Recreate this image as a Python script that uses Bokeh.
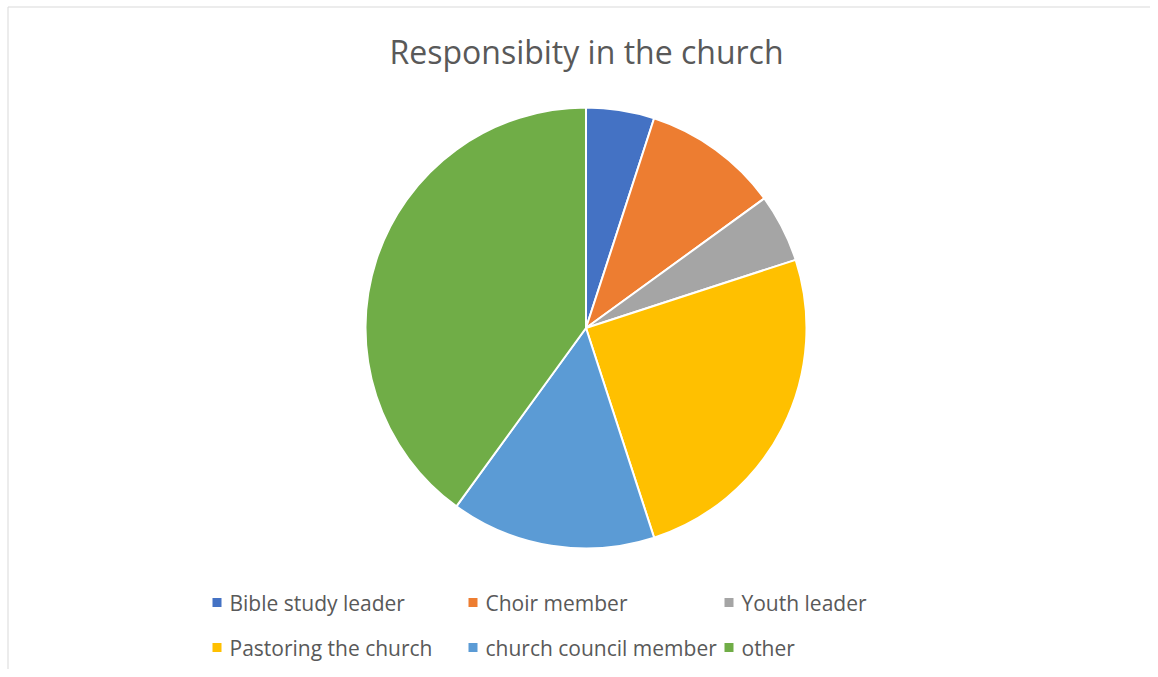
import math
from bokeh.plotting import figure
from bokeh.models import Range1d, ColumnDataSource
from bokeh.core.properties import value
from bokeh.embed import file_html
from bokeh.resources import INLINE

# ---- data ----
categories = ["Bible study leader", "Choir member", "Youth leader",
              "Pastoring the church", "church council member", "other"]
shares = [5, 10, 5, 25, 15, 40]
colors = ["#4472C4", "#ED7D31", "#A5A5A5", "#FFC000", "#5B9BD5", "#70AD47"]
title_text = "Responsibity in the church"

W, H = 1150, 669
p = figure(width=W, height=H, output_backend="svg", toolbar_location=None,
           x_range=Range1d(0, W), y_range=Range1d(0, H),
           min_border=0, outline_line_color=None)
p.axis.visible = False
p.grid.visible = False
p.background_fill_color = "white"
p.border_fill_color = "white"

# screen y -> data y
def Y(py):
    return H - py

# pie
total = float(sum(shares))
starts, ends = [], []
acc = 0.0
for s in shares:
    starts.append(math.pi / 2 - 2 * math.pi * acc / total)
    acc += s
    ends.append(math.pi / 2 - 2 * math.pi * acc / total)
src = ColumnDataSource(dict(start=starts, end=ends, color=colors, cat=categories))
p.wedge(x=585.5, y=Y(327.5), radius=220.5, start_angle="start", end_angle="end",
        direction="clock", fill_color="color", line_color="white", line_width=2,
        source=src)

# title
p.text(x=[586], y=[Y(51)], text=[title_text], text_align="center",
       text_baseline="middle", text_font=value("Open Sans"),
       text_font_size="32px", text_color="#595959")

# legend
col_x = [212, 468, 724]
row_y = [602, 647]
lx, ly, tx = [], [], []
for i, c in enumerate(categories):
    r, k = divmod(i, 3)
    lx.append(col_x[k] + 4.5)
    ly.append(Y(row_y[r]))
    tx.append(col_x[k] + 17)
p.rect(x=lx, y=ly, width=9, height=9, fill_color=colors, line_color=None)
p.text(x=tx, y=ly, text=categories, text_align="left", text_baseline="middle",
       text_font=value("Open Sans"), text_font_size="21px", text_color="#595959")

# border (top and left)
p.line(x=[7.5, 7.5, W], y=[0, Y(6.5), Y(6.5)], line_color="#D9D9D9", line_width=1)

open("out.html", "w").write(file_html(p, INLINE))
